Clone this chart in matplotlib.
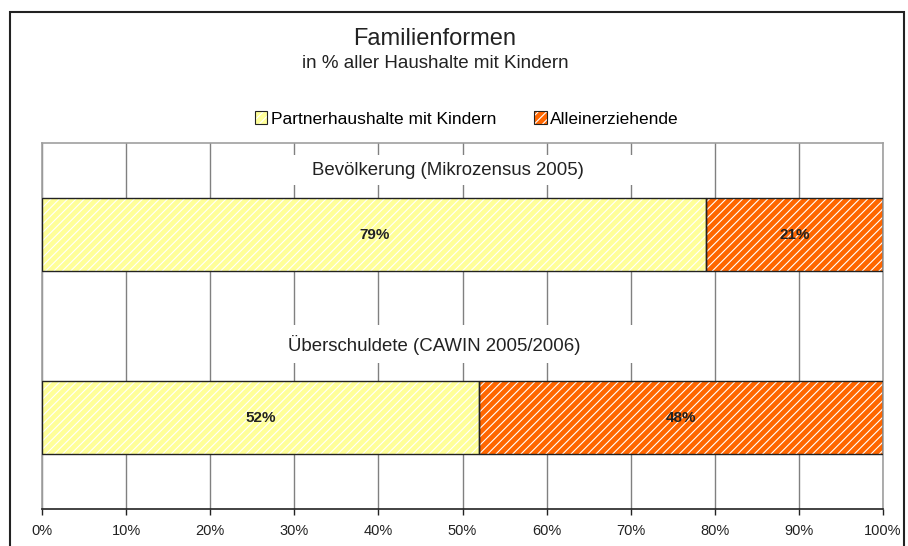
import matplotlib.pyplot as plt
from matplotlib.patches import Patch, Rectangle
from matplotlib.legend_handler import HandlerTuple

plt.rcParams['font.family'] = ['Liberation Sans', 'DejaVu Sans']
plt.rcParams['hatch.linewidth'] = 0.8

# data
groups = ["Bevölkerung (Mikrozensus 2005)", "Überschuldete (CAWIN 2005/2006)"]
series = ["Partnerhaushalte mit Kindern", "Alleinerziehende"]
partner = [79, 52]
allein = [21, 48]
ticks = [0, 10, 20, 30, 40, 50, 60, 70, 80, 90, 100]

colors = ["#FFFF99", "#FF6600"]
hatches = ["////", "////"]

fig = plt.figure(figsize=(9.08, 5.46), dpi=100)
ax = fig.add_axes([42/908, 1 - 509/546, 841/908, 366/546])

ypos = list(range(len(groups)))
lefts = [[0] * len(groups), partner]
for vals, left, col, h in zip([partner, allein], lefts, colors, hatches):
    ax.barh(ypos, vals, left=left, height=0.4, color=col, hatch=h,
            edgecolor="white", linewidth=0, zorder=2)
    ax.barh(ypos, vals, left=left, height=0.4, fill=False,
            edgecolor="#222222", linewidth=1.0, zorder=3)

# value labels
for i in ypos:
    ax.text(partner[i] / 2, i, f"{partner[i]}%", ha="center", va="center",
            fontsize=11, fontweight="bold", color="#222222", zorder=4)
    ax.text(partner[i] + allein[i] / 2, i, f"{allein[i]}%", ha="center", va="center",
            fontsize=11, fontweight="bold", color="#222222", zorder=4)

# group labels with white boxes over the grid
label_x = [0.483, 0.467]
label_y = [-0.352, 0.604]
box_y = [(-0.434, -0.270), (0.495, 0.702)]
trans = ax.get_yaxis_transform()
for i, g in enumerate(groups):
    y0, y1 = box_y[i]
    ax.add_patch(Rectangle((0.26, y0), 0.48, y1 - y0, transform=trans,
                           facecolor="white", edgecolor="none", zorder=1))
    ax.text(label_x[i], label_y[i], g, transform=trans, ha="center", va="center",
            fontsize=13.4, color="#222222", zorder=4)

ax.set_xlim(0, 100)
ax.set_ylim(1.5, -0.5)
ax.set_xticks(ticks)
ax.set_xticklabels([f"{t}%" for t in ticks], fontsize=10.5, color="#222222")
ax.set_yticks([])
ax.tick_params(axis="x", direction="out", length=4, width=1, color="#222222", pad=7)
ax.xaxis.grid(True, color="#808080", linewidth=1.0, zorder=0)
ax.set_axisbelow(True)
for s in ["top", "left", "right"]:
    ax.spines[s].set_color("#a0a0a0")
    ax.spines[s].set_linewidth(1.2)
ax.spines["bottom"].set_color("#222222")
ax.spines["bottom"].set_linewidth(1.2)

# titles
fig.text(435/908, 1 - 39/546, "Familienformen", ha="center", va="center",
         fontsize=17, color="#222222")
fig.text(435/908, 1 - 63/546, "in % aller Haushalte mit Kindern", ha="center", va="center",
         fontsize=13.5, color="#222222")

# legend
handles = []
for col, h in zip(colors, hatches):
    fill = Patch(facecolor=col, hatch=h, edgecolor="white", linewidth=0)
    edge = Patch(fill=False, edgecolor="#222222", linewidth=0.8)
    handles.append((fill, edge))
fig.legend(handles, series, loc="center", bbox_to_anchor=(467/908, 1 - 119/546),
           ncol=2, frameon=False, fontsize=12.5, handlelength=0.7, handleheight=0.7,
           handletextpad=0.2, columnspacing=2.2,
           handler_map={tuple: HandlerTuple(ndivide=1)})

# outer frame
fig.add_artist(Rectangle((10/908, -0.1), 894/908, 1.1 - 12/546, transform=fig.transFigure,
                         fill=False, edgecolor="#222222", linewidth=1.5))

fig.savefig("out.png", dpi=100)
